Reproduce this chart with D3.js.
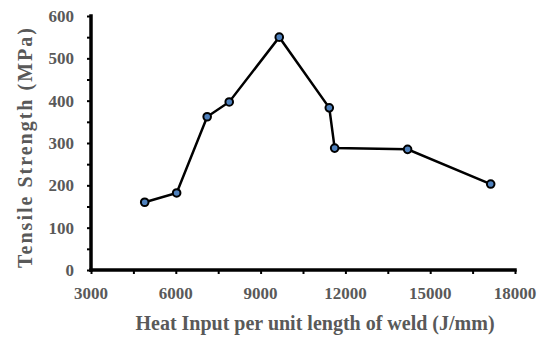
<!DOCTYPE html>
<html>
<head>
<meta charset="utf-8">
<script src="https://cdn.jsdelivr.net/npm/d3@7"></script>
<style>
  body { margin: 0; background: #fff; }
  text { font-family: "Liberation Serif", "Times New Roman", serif; font-weight: bold; fill: #595959; }
</style>
</head>
<body>
<svg id="chart" width="542" height="339"></svg>
<script>
"use strict";
// heat input (J/mm) vs tensile strength (MPa)
const heatInput = [4900, 6030, 7110, 7890, 9660, 11430, 11620, 14200, 17140];
const strength = [160, 182, 362, 397, 550, 383, 288, 285, 203];
const xTicks = [3000, 6000, 9000, 12000, 15000, 18000];
const yTicks = [0, 100, 200, 300, 400, 500, 600];

const svg = d3.select('#chart');
const plotLeft = 91, plotRight = 515, plotTop = 16, plotBottom = 270;

const x = d3.scaleLinear().domain([3000, 18000]).range([plotLeft, plotRight]);
const y = d3.scaleLinear().domain([0, 600]).range([plotBottom, plotTop]);

// minor ticks
const xMinor = d3.range(3000, 18001, 1500);
const yMinor = d3.range(0, 601, 50);

const gx = svg.append('g').attr('transform', `translate(0,${plotBottom})`)
    .call(d3.axisBottom(x).tickValues(xMinor).tickSize(4).tickFormat(''));
gx.select('.domain').remove();
gx.selectAll('line').attr('stroke', '#000').attr('stroke-width', 2);

const gy = svg.append('g').attr('transform', `translate(${plotLeft},0)`)
    .call(d3.axisLeft(y).tickValues(yMinor).tickSize(4).tickFormat(''));
gy.select('.domain').remove();
gy.selectAll('line').attr('stroke', '#000').attr('stroke-width', 2);

// axis lines
svg.append('line').attr('x1', plotLeft).attr('x2', plotRight).attr('y1', plotBottom).attr('y2', plotBottom)
    .attr('stroke', '#000').attr('stroke-width', 3.5).attr('stroke-linecap', 'square');
svg.append('line').attr('x1', plotLeft).attr('x2', plotLeft).attr('y1', plotTop).attr('y2', plotBottom)
    .attr('stroke', '#000').attr('stroke-width', 3.5).attr('stroke-linecap', 'square');

// tick labels
svg.selectAll('.xl').data(xTicks).enter().append('text')
    .attr('x', d => x(d)).attr('y', 299)
    .attr('text-anchor', 'middle').attr('font-size', '17px')
    .text(d => d);
svg.selectAll('.yl').data(yTicks).enter().append('text')
    .attr('x', 74).attr('y', d => y(d) + 6)
    .attr('text-anchor', 'end').attr('font-size', '17px')
    .text(d => d);

// titles
svg.append('text').attr('x', 315).attr('y', 330)
    .attr('text-anchor', 'middle').attr('font-size', '20px')
    .text('Heat Input per unit length of weld (J/mm)');
svg.append('text').attr('transform', `translate(32,147) rotate(-90)`)
    .attr('text-anchor', 'middle').attr('font-size', '20px')
    .attr('letter-spacing', '2px')
    .text('Tensile Strength (MPa)');

const pts = heatInput.map((d, i) => [d, strength[i]]);
svg.append('path').datum(pts)
    .attr('fill', 'none').attr('stroke', '#000').attr('stroke-width', 2.5)
    .attr('d', d3.line().x(d => x(d[0])).y(d => y(d[1])));

svg.selectAll('circle').data(pts).enter().append('circle')
    .attr('cx', d => x(d[0])).attr('cy', d => y(d[1])).attr('r', 3.8)
    .attr('fill', '#4f81bd').attr('stroke', '#000').attr('stroke-width', 2);
</script>
</body>
</html>
